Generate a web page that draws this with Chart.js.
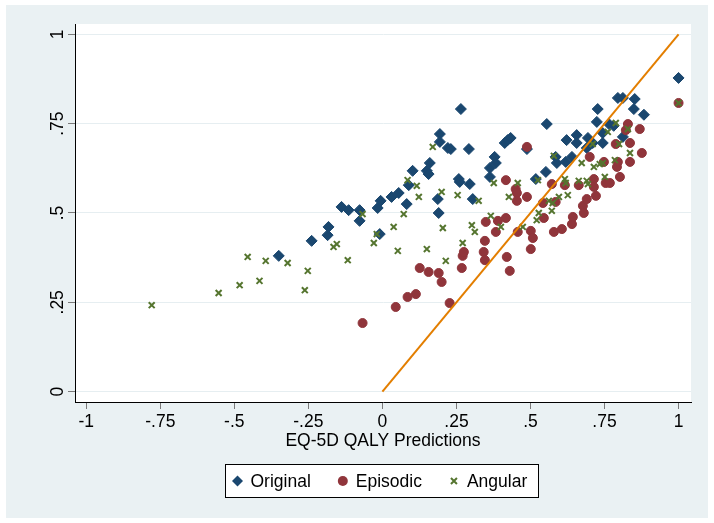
<!DOCTYPE html>
<html>
<head>
<meta charset="utf-8">
<script src="https://cdn.jsdelivr.net/npm/chart.js@4.4.1/dist/chart.umd.min.js"></script>
<style>
  html, body { margin: 0; padding: 0; background: #fff; }
  canvas { display: block; }
</style>
</head>
<body>
<canvas id="qalyChart" width="714" height="523"></canvas>
<script>
// values
const xTicks = [-1, -0.75, -0.5, -0.25, 0, 0.25, 0.5, 0.75, 1];
const yTicks = [0, 0.25, 0.5, 0.75, 1];

const originalX = [-0.350, -0.239, -0.185, -0.182, -0.138, -0.114, -0.077, -0.077, -0.016, -0.006, -0.009, 0.031, 0.055, 0.082, 0.089, 0.102, 0.150, 0.156, 0.160, 0.187, 0.190, 0.194, 0.194, 0.221, 0.231, 0.265, 0.258, 0.261, 0.292, 0.295, 0.305, 0.363, 0.363, 0.379, 0.383, 0.413, 0.423, 0.433, 0.488, 0.518, 0.552, 0.555, 0.585, 0.589, 0.619, 0.622, 0.640, 0.656, 0.656, 0.690, 0.694, 0.710, 0.724, 0.727, 0.744, 0.744, 0.765, 0.781, 0.795, 0.812, 0.812, 0.849, 0.852, 0.883, 1.000];
const originalY = [0.380, 0.422, 0.438, 0.461, 0.517, 0.508, 0.508, 0.478, 0.514, 0.534, 0.441, 0.545, 0.556, 0.525, 0.578, 0.618, 0.618, 0.609, 0.640, 0.539, 0.500, 0.721, 0.699, 0.682, 0.679, 0.791, 0.595, 0.587, 0.679, 0.581, 0.539, 0.626, 0.601, 0.657, 0.640, 0.696, 0.704, 0.710, 0.679, 0.595, 0.615, 0.749, 0.657, 0.640, 0.643, 0.704, 0.657, 0.718, 0.696, 0.682, 0.710, 0.696, 0.755, 0.791, 0.724, 0.696, 0.749, 0.744, 0.822, 0.822, 0.713, 0.791, 0.819, 0.775, 0.878];

const episodicX = [-0.067, 0.045, 0.085, 0.113, 0.126, 0.156, 0.190, 0.200, 0.227, 0.268, 0.271, 0.275, 0.342, 0.346, 0.346, 0.349, 0.383, 0.390, 0.417, 0.417, 0.420, 0.430, 0.450, 0.454, 0.454, 0.457, 0.488, 0.488, 0.501, 0.508, 0.501, 0.542, 0.545, 0.572, 0.579, 0.585, 0.606, 0.616, 0.640, 0.643, 0.663, 0.677, 0.680, 0.690, 0.700, 0.714, 0.714, 0.721, 0.748, 0.754, 0.768, 0.788, 0.792, 0.795, 0.802, 0.822, 0.829, 0.836, 0.836, 0.869, 0.876, 1.000];
const episodicY = [0.192, 0.237, 0.265, 0.273, 0.346, 0.335, 0.332, 0.307, 0.248, 0.346, 0.380, 0.391, 0.391, 0.422, 0.368, 0.475, 0.447, 0.478, 0.486, 0.592, 0.377, 0.338, 0.567, 0.556, 0.534, 0.447, 0.685, 0.545, 0.450, 0.430, 0.399, 0.528, 0.486, 0.581, 0.447, 0.531, 0.455, 0.578, 0.469, 0.489, 0.578, 0.520, 0.500, 0.539, 0.657, 0.595, 0.573, 0.548, 0.643, 0.584, 0.584, 0.693, 0.629, 0.643, 0.601, 0.732, 0.749, 0.696, 0.643, 0.735, 0.668, 0.808];

const angularX = [-0.779, -0.553, -0.482, -0.455, -0.415, -0.394, -0.320, -0.262, -0.252, -0.165, -0.154, -0.117, -0.067, -0.029, -0.019, 0.038, 0.052, 0.072, 0.085, 0.116, 0.123, 0.150, 0.170, 0.200, 0.204, 0.214, 0.254, 0.271, 0.302, 0.312, 0.325, 0.366, 0.376, 0.400, 0.427, 0.457, 0.474, 0.521, 0.525, 0.528, 0.562, 0.572, 0.575, 0.579, 0.596, 0.616, 0.619, 0.626, 0.663, 0.673, 0.690, 0.694, 0.710, 0.714, 0.734, 0.744, 0.751, 0.761, 0.785, 0.788, 0.799, 0.829, 0.836, 1.000];
const angularY = [0.242, 0.276, 0.298, 0.377, 0.310, 0.366, 0.360, 0.284, 0.338, 0.405, 0.413, 0.368, 0.497, 0.416, 0.441, 0.461, 0.394, 0.497, 0.592, 0.576, 0.545, 0.399, 0.685, 0.559, 0.458, 0.366, 0.550, 0.416, 0.466, 0.447, 0.534, 0.492, 0.584, 0.461, 0.545, 0.584, 0.461, 0.480, 0.592, 0.500, 0.534, 0.506, 0.528, 0.660, 0.545, 0.595, 0.584, 0.550, 0.590, 0.640, 0.590, 0.581, 0.693, 0.629, 0.637, 0.640, 0.601, 0.727, 0.648, 0.752, 0.693, 0.735, 0.668, 0.808];

// 45 degree reference line
const lineX = [0, 1];
const lineY = [0, 1];

const NAVY = '#1a476f';
const MAROON = '#90353b';
const GREEN = '#55752f';
const ORANGE = '#e37e00';
const FONT = "'Liberation Sans', Arial, Helvetica, sans-serif";

function toPoints(xs, ys) {
  return xs.map((x, i) => ({ x: x, y: ys[i] }));
}

// stata style labels: .25, -.5, 0, 1
function stataLabel(v) {
  if (v === 0) return '0';
  return String(v).replace('0.', '.');
}

const bgPlugin = {
  id: 'stataBackground',
  beforeDraw(chart) {
    const ctx = chart.ctx;
    const a = chart.chartArea;
    ctx.save();
    ctx.fillStyle = '#ffffff';
    ctx.fillRect(0, 0, chart.width, chart.height);
    ctx.fillStyle = '#eaf1f3';
    ctx.fillRect(6, 5, chart.width - 12, chart.height - 10);
    ctx.fillStyle = '#ffffff';
    ctx.fillRect(a.left, a.top, a.right - a.left, a.bottom - a.top);
    ctx.restore();
  }
};

function drawKey(ctx, style, x, y, color) {
  ctx.fillStyle = color;
  ctx.strokeStyle = color;
  ctx.beginPath();
  if (style === 'rectRot') {
    const r = 5.5;
    ctx.moveTo(x - r, y); ctx.lineTo(x, y - r); ctx.lineTo(x + r, y); ctx.lineTo(x, y + r);
    ctx.closePath();
    ctx.fill();
  } else if (style === 'circle') {
    ctx.arc(x, y, 5, 0, Math.PI * 2);
    ctx.fill();
  } else {
    const d = 3;
    ctx.lineWidth = 2;
    ctx.moveTo(x - d, y - d); ctx.lineTo(x + d, y + d);
    ctx.moveTo(x + d, y - d); ctx.lineTo(x - d, y + d);
    ctx.stroke();
  }
}

const legendPlugin = {
  id: 'stataLegend',
  afterDraw(chart) {
    const ctx = chart.ctx;
    const box = { left: 225.5, top: 464.5, width: 313, height: 33 };
    ctx.save();
    ctx.fillStyle = '#ffffff';
    ctx.fillRect(box.left, box.top, box.width, box.height);
    ctx.strokeStyle = '#000000';
    ctx.lineWidth = 1;
    ctx.strokeRect(box.left, box.top, box.width, box.height);
    ctx.font = '17.5px ' + FONT;
    ctx.textBaseline = 'middle';
    ctx.textAlign = 'left';
    const cy = box.top + box.height / 2;
    let kx = box.left + 12;
    chart.data.datasets.forEach(ds => {
      if (!ds.inLegend) return;
      drawKey(ctx, ds.pointStyle, kx, cy, ds.backgroundColor);
      ctx.fillStyle = '#000000';
      const tx = kx + 13;
      ctx.fillText(ds.label, tx, cy + 1);
      kx = tx + ctx.measureText(ds.label).width + 32;
    });
    ctx.restore();
  }
};

new Chart(document.getElementById('qalyChart'), {
  type: 'scatter',
  data: {
    datasets: [
      {
        label: 'Original',
        inLegend: true,
        data: toPoints(originalX, originalY),
        pointStyle: 'rectRot',
        pointRadius: 5.5,
        borderWidth: 1,
        backgroundColor: NAVY,
        borderColor: NAVY,
        order: 4
      },
      {
        label: 'Episodic',
        inLegend: true,
        data: toPoints(episodicX, episodicY),
        pointStyle: 'circle',
        pointRadius: 4.5,
        borderWidth: 1,
        backgroundColor: MAROON,
        borderColor: MAROON,
        order: 3
      },
      {
        label: 'Angular',
        inLegend: true,
        data: toPoints(angularX, angularY),
        pointStyle: 'crossRot',
        pointRadius: 4.2,
        borderWidth: 2,
        backgroundColor: GREEN,
        borderColor: GREEN,
        order: 2
      },
      {
        type: 'line',
        label: '45 degree',
        inLegend: false,
        data: toPoints(lineX, lineY),
        borderColor: ORANGE,
        backgroundColor: ORANGE,
        borderWidth: 2,
        pointRadius: 0,
        tension: 0,
        order: 1
      }
    ]
  },
  options: {
    responsive: false,
    animation: false,
    events: [],
    layout: { padding: { left: 0, right: 23, top: 24, bottom: 0 } },
    plugins: {
      legend: { display: false },
      tooltip: { enabled: false }
    },
    scales: {
      x: {
        type: 'linear',
        min: -1.038,
        max: 1.042,
        afterBuildTicks: scale => { scale.ticks = xTicks.map(v => ({ value: v })); },
        afterFit: scale => { scale.height = 121; },
        grid: { drawOnChartArea: false, drawTicks: true, tickLength: 7, tickColor: '#7a7a7a' },
        border: { display: true, color: '#000000', width: 1 },
        ticks: {
          autoSkip: false,
          maxRotation: 0,
          padding: 3,
          color: '#000000',
          font: { family: FONT, size: 17.5 },
          callback: v => stataLabel(v)
        },
        title: {
          display: true,
          text: 'EQ-5D QALY Predictions',
          color: '#000000',
          font: { family: FONT, size: 17.5 },
          padding: { top: 0, bottom: 71 }
        }
      },
      y: {
        type: 'linear',
        min: -0.029,
        max: 1.029,
        afterBuildTicks: scale => { scale.ticks = yTicks.map(v => ({ value: v })); },
        afterFit: scale => { scale.width = 75; },
        grid: { color: '#e6eef1', lineWidth: 1, drawTicks: true, tickLength: 7, tickColor: '#7a7a7a' },
        border: { display: true, color: '#000000', width: 1 },
        ticks: {
          autoSkip: false,
          minRotation: 90,
          maxRotation: 90,
          crossAlign: 'center',
          padding: -2,
          color: '#000000',
          font: { family: FONT, size: 17.5 },
          callback: v => stataLabel(v)
        }
      }
    }
  },
  plugins: [bgPlugin, legendPlugin]
});
</script>
</body>
</html>
